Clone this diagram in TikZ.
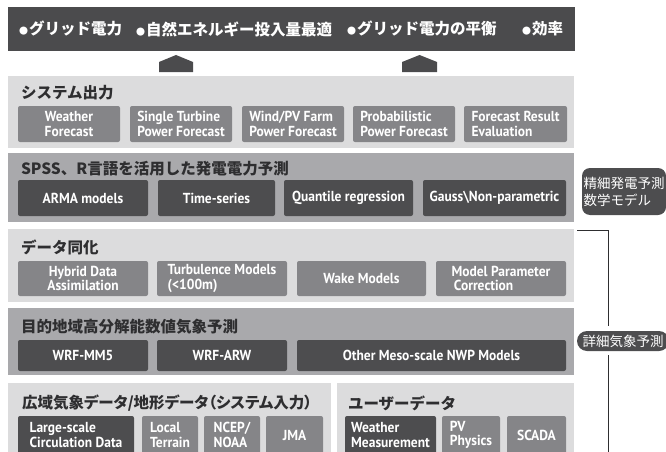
\documentclass[tikz,border=0pt]{standalone}
\usepackage{fontspec}
\usetikzlibrary{calc}
\newfontfamily\jp{Noto Sans CJK JP}
\newfontfamily\jpp{Noto Sans CJK JP}[RawFeature=+palt]
\newfontfamily\lat{PT Sans}[FakeStretch=0.93]
\definecolor{cTop}{HTML}{4B4B4D}
\definecolor{cL}{HTML}{DCDCDD}
\definecolor{cM}{HTML}{A9A9AC}
\definecolor{cB}{HTML}{858588}
\definecolor{cD}{HTML}{4D4D4F}
\definecolor{cT}{HTML}{2E2E30}
\newcommand\bxfont{\lat\bfseries\fontsize{14.5}{14.5}\selectfont}
\newcommand\tfont{\jp\bfseries\fontsize{15.5}{18}\selectfont}
\newcommand\topfont{\jp\bfseries\fontsize{15.5}{18}\selectfont}
\newcommand\bul{{\fontsize{9}{9}\selectfont ●}\hspace{1pt}}
\begin{document}
\begin{tikzpicture}[x=1pt,y=-1pt,
  every node/.style={inner sep=0pt,outer sep=0pt},
  bx/.style={rounded corners=2pt,text=white,anchor=north west,font=\bxfont},
  bxM/.style={bx,fill=cB},
  bxD/.style={bx,fill=cD},
  ttl/.style={anchor=west,font=\tfont,text=cT},
  topt/.style={anchor=west,font=\topfont,text=white},
  lab/.style={fill=cD,text=white,font=\jp\fontsize{13.5}{17}\selectfont},
  brk/.style={draw=cT,line width=0.8pt}]
\useasboundingbox (0,0) rectangle (666,452);
\clip (0,0) rectangle (666,452);

% top bar
\fill[cTop] (8,7) rectangle (575,51);
\node[topt] (t1) at (19,29) {\bul グリッド電力};
\node[topt] (t2) at (136,29) {\bul 自然エネルギー投入量最適};
\node[topt] (t3) at (347,29) {\bul グリッド電力の平衡};
\node[topt] (t4) at (522,29) {\bul 効率};

% up arrows
\fill[cTop] (159,72) -- (159,62) -- (176,55) -- (193,62) -- (193,72) -- cycle;
\fill[cTop] (402,72) -- (402,62) -- (419.5,55) -- (437,62) -- (437,72) -- cycle;

% panel 1
\fill[cL] (8,76) rectangle (574,148);
\node[ttl] (p1) at (21,93) {システム出力};
\node[bxM,minimum width=102pt,minimum height=36pt,align=center] (a1) at (18,106) {Weather\\Forecast};
\node[bxM,minimum width=102pt,minimum height=36pt,align=left] (a2) at (130,106) {Single Turbine\\Power Forecast};
\node[bxM,minimum width=102pt,minimum height=36pt,align=left] (a3) at (242,106) {Wind/PV Farm\\Power Forecast};
\node[bxM,minimum width=102pt,minimum height=36pt,align=left] (a4) at (353,106) {Probabilistic\\Power Forecast};
\node[bxM,minimum width=103pt,minimum height=36pt,align=left] (a5) at (464,106) {Forecast Result\\Evaluation};

% panel 2
\fill[cM] (8,153) rectangle (574,222);
\node[ttl] (p2) at (21,169) {SPSS、R言語を活用した発電電力予測};
\node[bxD,minimum width=130pt,minimum height=36pt] (b1) at (18,180) {ARMA models};
\node[bxD,minimum width=117pt,minimum height=36pt] (b2) at (158,180) {Time-series};
\node[bxD,minimum width=129pt,minimum height=36pt] (b3) at (284,180) {Quantile regression};
\node[bxD,minimum width=143pt,minimum height=36pt] (b4) at (423,180) {Gauss\textbackslash Non-parametric};

% panel 3
\fill[cL] (8,229) rectangle (574,302);
\node[ttl] (p3) at (21,247) {データ同化};
\node[bxM,minimum width=130pt,minimum height=35pt,align=center] (c1) at (18,261) {Hybrid Data\\Assimilation};
\node[bxM,minimum width=130pt,minimum height=35pt,align=left] (c2) at (157,261) {Turbulence Models\\(<100m)};
\node[bxM,minimum width=129pt,minimum height=35pt] (c3) at (297,261) {Wake Models};
\node[bxM,minimum width=130pt,minimum height=35pt,align=left] (c4) at (436,261) {Model Parameter\\\,Correction};

% panel 4
\fill[cM] (8,308) rectangle (574,375);
\node[ttl] (p4) at (21,327) {目的地域高分解能数値気象予測};
\node[bxD,minimum width=130pt,minimum height=31pt] (d1) at (18,340) {WRF-MM5};
\node[bxD,minimum width=130pt,minimum height=31pt] (d2) at (157,340) {WRF-ARW};
\node[bxD,minimum width=269pt,minimum height=31pt] (d3) at (297,340) {Other Meso-scale NWP Models};

% panel 5
\fill[cL] (8,383) rectangle (331,460);
\fill[cL] (337,383) rectangle (574,460);
\node[ttl,font=\jpp\bfseries\fontsize{15.5}{18}\selectfont] (p5) at (22,403) {広域気象データ/地形データ（システム入力）};
\node[ttl] (p6) at (348,403) {ユーザーデータ};
\node[bxD,minimum width=116pt,minimum height=38pt,align=left] (e1) at (18,416) {Large-scale\\Circulation Data};
\node[bxM,minimum width=56pt,minimum height=38pt,align=left] (e2) at (142,416) {Local\\Terrain};
\node[bxM,minimum width=56pt,minimum height=38pt,align=left] (e3) at (204,416) {NCEP/\\NOAA};
\node[bxM,minimum width=57pt,minimum height=38pt] (e4) at (266,416) {JMA};
\node[bxD,minimum width=91pt,minimum height=38pt,align=left] (f1) at (345,416) {Weather\\Measurement};
\node[bxM,minimum width=58pt,minimum height=38pt,align=left] (f2) at (442,416) {PV\\Physics};
\node[bxM,minimum width=59pt,minimum height=38pt] (f3) at (507,416) {SCADA};

% right labels
\node[lab,anchor=north west,minimum width=84pt,minimum height=47pt,rounded corners=8pt,align=left] (g1) at (582,168) {精細発電予測\\数学モデル};
\node[lab,anchor=west,minimum width=92pt,minimum height=20pt,rounded corners=10pt] (g2) at (577,341) {詳細気象予測};

% bracket
\coordinate (k1) at (577,230);
\coordinate (k2) at (608,230);
\coordinate (k3) at (608,452);
\draw[brk] (k1) -- (k2) -- ($(k2 |- g2.north)+(0,-5)$);
\draw[brk] (k3) -- ($(k3 |- g2.south)+(0,4)$);
\end{tikzpicture}
\end{document}
